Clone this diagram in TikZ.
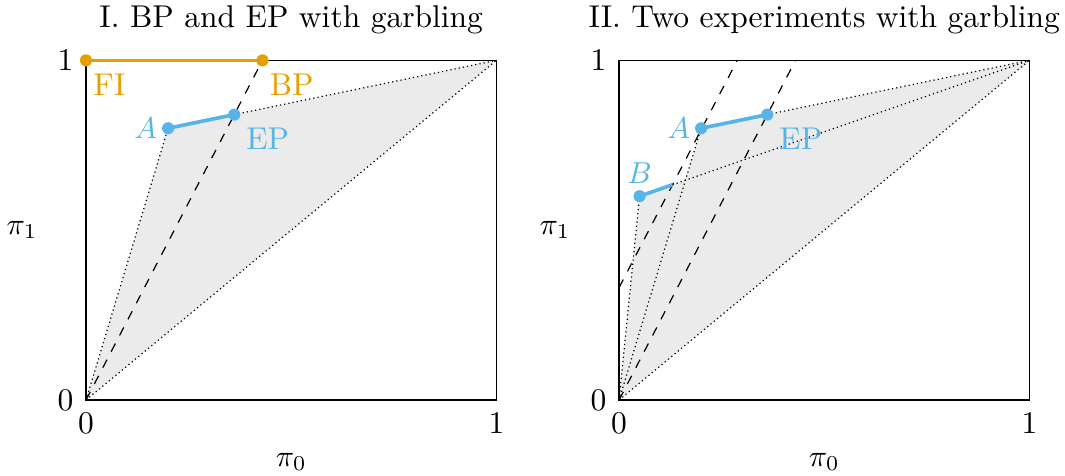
\documentclass[tikz,border=0pt]{standalone}
\usepackage{fontspec}
\usepackage{amsmath}
\usepackage{xcolor}
\usepackage{tikz}
\usetikzlibrary{positioning}
\definecolor{bpOrange}{HTML}{E69F00}
\definecolor{epBlue}{HTML}{56B4E9}
\definecolor{hullGray}{HTML}{EBEBEB}

\begin{document}
\begin{tikzpicture}[x=4.76cm, y=3.94cm, every node/.style={font=\fontsize{10.4}{12.5}\selectfont}]

% --- Style Definitions ---
% Frame and hull
\tikzstyle{frame_box}=[draw=black, line width=0.5pt]
\tikzstyle{hull}=[fill=hullGray]
\tikzstyle{hull_edge}=[densely dotted, line width=0.4pt]
\tikzstyle{slope_line}=[dashed, line width=0.4pt]
% Coloured segments and points
\tikzstyle{bp_line}=[bpOrange, line width=1pt]
\tikzstyle{ep_line}=[epBlue, line width=1.2pt]
\tikzstyle{bp_dot}=[circle, fill=bpOrange, inner sep=0pt, minimum size=4pt]
\tikzstyle{ep_dot}=[circle, fill=epBlue, inner sep=0pt, minimum size=4pt]
% Labels
\tikzstyle{tick_label}=[inner sep=4pt]
\tikzstyle{bp_label}=[text=bpOrange, inner sep=1.5pt]
\tikzstyle{ep_label}=[text=epBlue, inner sep=1.5pt]

\useasboundingbox (-0.998cm,-0.870cm) rectangle (11.356cm,4.640cm);

% --- Panel I ---
\begin{scope}
\coordinate (O1) at (0,0);
\coordinate (X1) at (1,0);
\coordinate (T1) at (1,1);
\coordinate (FI1) at (0,1);
\coordinate (BP1) at (0.43,1);
\coordinate (A1) at (0.2,0.8);
\coordinate (EP1) at (intersection of A1--T1 and O1--BP1);

\fill[hull] (O1) -- (A1) -- (EP1) -- (T1) -- cycle;
\draw[frame_box] (O1) rectangle (T1);
\draw[hull_edge] (O1) -- (A1);
\draw[hull_edge] (EP1) -- (T1);
\draw[hull_edge] (O1) -- (T1);
\draw[slope_line] (O1) -- (BP1);

\draw[bp_line] (FI1) -- (BP1);
\draw[ep_line] (A1) -- (EP1);
\node[bp_dot] (fi1) at (FI1) {};
\node[bp_dot] (bp1) at (BP1) {};
\node[ep_dot] (a1) at (A1) {};
\node[ep_dot] (ep1) at (EP1) {};

\node[bp_label, below right=1.2pt and -0.8pt of fi1] (fi1_text) {FI};
\node[bp_label, below right=1.2pt and -0.8pt of bp1] (bp1_text) {BP};
\node[ep_label, left=-0.3pt of a1] (a1_text) {$A$};
\node[ep_label, below right=1.2pt and 0.7pt of ep1] (ep1_text) {EP};

% axes
\node[tick_label, left] (y01) at (O1) {0};
\node[tick_label, left] (y11) at (FI1) {1};
\node[tick_label, below] (x01) at (O1) {0};
\node[tick_label, below] (x11) at (X1) {1};
\node (pi01) at (0.5,-0.182) {$\pi_0$};
\node (pi11) at (-0.156,0.5) {$\pi_1$};
\node[anchor=base] (title1) at (0.5,1.097) {I. BP and EP with garbling};
\end{scope}

% --- Panel II ---
\begin{scope}[xshift=6.183cm]
\coordinate (O2) at (0,0);
\coordinate (X2) at (1,0);
\coordinate (T2) at (1,1);
\coordinate (Y2) at (0,1);
\coordinate (BP2) at (0.43,1);
\coordinate (S2) at (0,0.331);
\coordinate (U2) at (0.288,1);
\coordinate (A2) at (0.2,0.8);
\coordinate (B2) at (0.05,0.6);
\coordinate (EP2) at (intersection of A2--T2 and O2--BP2);
\coordinate (BE2) at (intersection of B2--T2 and S2--U2);

\fill[hull] (O2) -- (A2) -- (EP2) -- (T2) -- cycle;
\fill[hull] (O2) -- (B2) -- (BE2) -- (T2) -- cycle;
\draw[frame_box] (O2) rectangle (T2);
\draw[hull_edge] (O2) -- (A2);
\draw[hull_edge] (O2) -- (B2);
\draw[hull_edge] (EP2) -- (T2);
\draw[hull_edge] (BE2) -- (T2);
\draw[hull_edge] (O2) -- (T2);
\draw[slope_line] (O2) -- (BP2);
\draw[slope_line] (S2) -- (U2);

\draw[ep_line] (A2) -- (EP2);
\draw[ep_line] (B2) -- (BE2);
\node[ep_dot] (a2) at (A2) {};
\node[ep_dot] (ep2) at (EP2) {};
\node[ep_dot] (b2) at (B2) {};

\node[ep_label, left=-0.3pt of a2] (a2_text) {$A$};
\node[ep_label, below right=1.2pt and 0.7pt of ep2] (ep2_text) {EP};
\node[ep_label, above=0.2pt of b2] (b2_text) {$B$};

% axes
\node[tick_label, left] (y02) at (O2) {0};
\node[tick_label, left] (y12) at (Y2) {1};
\node[tick_label, below] (x02) at (O2) {0};
\node[tick_label, below] (x12) at (X2) {1};
\node (pi02) at (0.5,-0.182) {$\pi_0$};
\node (pi12) at (-0.156,0.5) {$\pi_1$};
\node[anchor=base] (title2) at (0.5,1.097) {II. Two experiments with garbling};
\end{scope}

\end{tikzpicture}
\end{document}
